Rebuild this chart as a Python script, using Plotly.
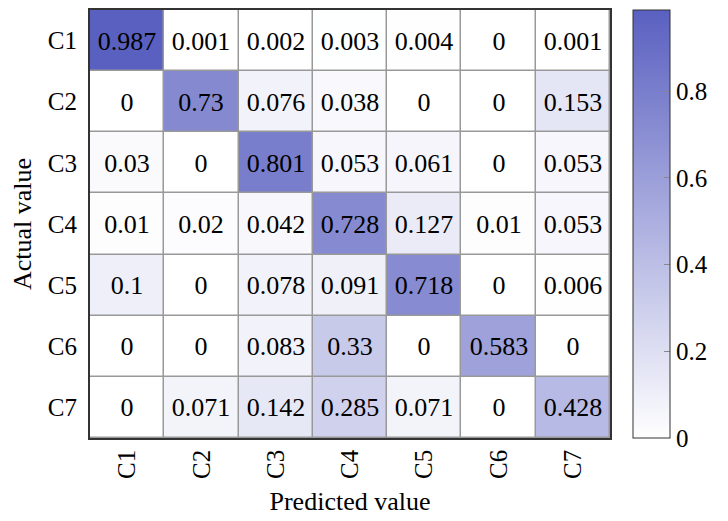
import plotly.graph_objects as go

classes = ["C1", "C2", "C3", "C4", "C5", "C6", "C7"]
row_c1 = [0.987, 0.001, 0.002, 0.003, 0.004, 0, 0.001]
row_c2 = [0, 0.73, 0.076, 0.038, 0, 0, 0.153]
row_c3 = [0.03, 0, 0.801, 0.053, 0.061, 0, 0.053]
row_c4 = [0.01, 0.02, 0.042, 0.728, 0.127, 0.01, 0.053]
row_c5 = [0.1, 0, 0.078, 0.091, 0.718, 0, 0.006]
row_c6 = [0, 0, 0.083, 0.33, 0, 0.583, 0]
row_c7 = [0, 0.071, 0.142, 0.285, 0.071, 0, 0.428]
colorbar_ticks = [0, 0.2, 0.4, 0.6, 0.8]

z = [row_c1, row_c2, row_c3, row_c4, row_c5, row_c6, row_c7]
text = [["{:g}".format(v) for v in row] for row in z]

FONT = "Liberation Serif"

fig = go.Figure(go.Heatmap(
    z=z, x=classes, y=classes, text=text, texttemplate="%{text}",
    textfont=dict(family=FONT, size=26, color="black"),
    colorscale=[[0, "#ffffff"], [1, "#5a60c0"]],
    zmin=0, zmax=0.987, xgap=1.5, ygap=1.5,
    colorbar=dict(
        x=1.044, xanchor="left", xpad=0, y=0.5, yanchor="middle", len=1, lenmode="fraction",
        ypad=0,
        thickness=37, thicknessmode="pixels",
        outlinewidth=1, outlinecolor="#333333",
        tickvals=colorbar_ticks, ticktext=["0", "0.2", "0.4", "0.6", "0.8"],
        ticks="inside", ticklen=6, tickcolor="#888888",
        tickfont=dict(family=FONT, size=25, color="black"),
    ),
    hoverinfo="skip",
))

fig.update_layout(
    width=728, height=521,
    margin=dict(l=82, r=126, t=0, b=91),
    paper_bgcolor="white", plot_bgcolor="#999999",
    font=dict(family=FONT, color="black"),
)
fig.update_xaxes(
    title=dict(text="Predicted value", font=dict(size=26), standoff=14),
    tickangle=-90, tickfont=dict(size=25), showgrid=False, zeroline=False,
    showline=True, linecolor="#333333", linewidth=1.5, mirror=True, ticks="",
)
fig.update_yaxes(
    title=dict(text="Actual value", font=dict(size=26), standoff=14),
    autorange="reversed", tickfont=dict(size=25), showgrid=False, zeroline=False,
    showline=True, linecolor="#333333", linewidth=1.5, mirror=True, ticks="",
    ticksuffix=" ",
)

fig.write_html("out.html")
